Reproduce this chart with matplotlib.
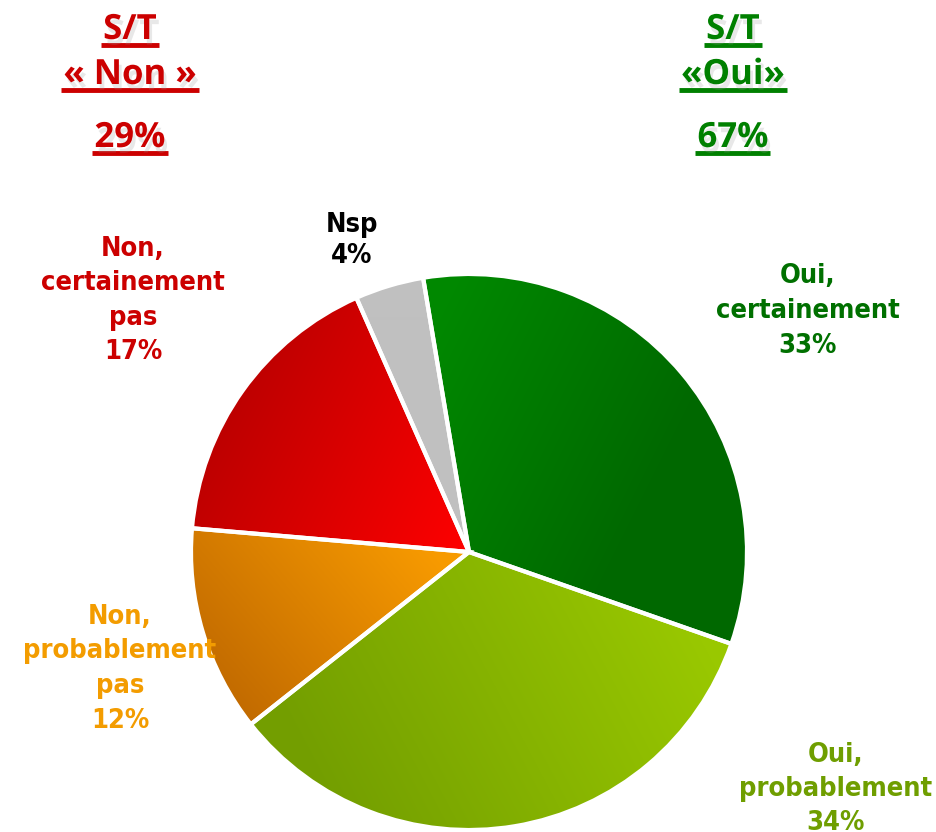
import numpy as np
import matplotlib
matplotlib.use("Agg")
import matplotlib.pyplot as plt
import matplotlib.patheffects as pe
from matplotlib.colors import to_rgb

# Survey answers (percent)
answers = ["Oui,\ncertainement", "Oui,\nprobablement", "Non,\nprobablement\npas",
           "Non,\ncertainement\npas", "Nsp"]
shares = [33, 34, 12, 17, 4]
label_colors = ["#007000", "#6f9e00", "#f39c00", "#cc0000", "#000000"]
# gradient colours per slice (light -> dark)
grad_light = ["#008800", "#99c800", "#f79a00", "#ff0000", "#c0c0c0"]
grad_dark = ["#006800", "#739e00", "#bf6800", "#b80000", "#c0c0c0"]
# gradient direction per slice, from -> to (pixel coords, y down)
grad_from = [(450, 300), (680, 600), (420, 540), (469, 552), (400, 300)]
grad_to = [(690, 420), (320, 790), (220, 710), (200, 420), (400, 400)]

# totals
tot_non = 29
tot_oui = 67

W, H = 937, 832
fig = plt.figure(figsize=(W / 100, H / 100), dpi=100)
ax = fig.add_axes([0, 0, 1, 1])

cx, cy, R = 469, 552, 278
wedges, _ = ax.pie(shares, center=(cx, H - cy), radius=R, startangle=99.5,
                   counterclock=False, frame=True,
                   wedgeprops=dict(edgecolor="white", linewidth=3))
ax.set_xlim(0, W)
ax.set_ylim(0, H)
ax.set_aspect("equal")
ax.axis("off")

# gradient fill for each slice
xx, yy = np.meshgrid(np.arange(W) + 0.5, np.arange(H) + 0.5)
for i, w in enumerate(wedges):
    p0 = np.array(grad_from[i], float)
    p1 = np.array(grad_to[i], float)
    d = p1 - p0
    t = ((xx - p0[0]) * d[0] + (yy - p0[1]) * d[1]) / (d @ d)
    t = np.clip(t, 0, 1)[..., None]
    img = (1 - t) * np.array(to_rgb(grad_light[i])) + t * np.array(to_rgb(grad_dark[i]))
    im = ax.imshow(img, extent=(0, W, 0, H), origin="upper", zorder=1,
                   interpolation="bilinear")
    im.set_clip_path(w)
    w.set_facecolor("none")
    w.set_zorder(3)

# slice labels
lab_pos = [(808, 276), (836, 755), (120, 617), (133, 249), (352, 225)]
lab_step = [35, 34, 34.5, 34.5, 31]
for i, (x, y) in enumerate(lab_pos):
    for k, line in enumerate(answers[i].split("\n") + [f"{shares[i]}%"]):
        ax.text(x, H - (y + k * lab_step[i]), line, ha="center", va="center",
                fontsize=19.5, fontweight="bold", color=label_colors[i],
                family="DejaVu Sans", fontstretch="condensed")

# headers with underline and soft shadow
shadow = [pe.withSimplePatchShadow(offset=(2, -4), shadow_rgbFace="#999999", alpha=0.22)]


def header(x, lines, color):
    bases = [39, 84, 147]
    for base, txt in zip(bases, lines):
        t = ax.text(x, H - base, txt, ha="center", va="baseline", fontsize=25,
                    fontweight="bold", color=color, family="Open Sans",
                    path_effects=shadow)
        fig.canvas.draw()
        bb = t.get_window_extent()
        ax.plot([bb.x0 - 2, bb.x1 + 2], [H - base - 6] * 2, color=color, lw=3.5,
                solid_capstyle="butt", path_effects=shadow)


header(130, ["S/T", "« Non »", f"{tot_non}%"], "#cc0000")
header(733, ["S/T", "«Oui»", f"{tot_oui}%"], "#008000")

fig.savefig("out.png", dpi=100)
